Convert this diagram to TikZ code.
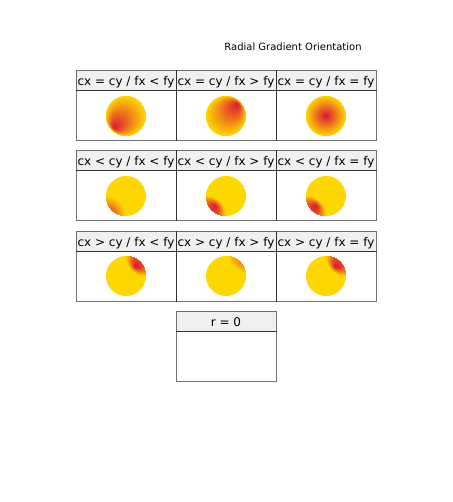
\documentclass[tikz,border=0pt]{standalone}
\usepackage{fontspec}
\setmainfont{DejaVu Sans}
\definecolor{gradgold}{RGB}{255,215,0}
\definecolor{gradred}{RGB}{220,20,60}
\definecolor{headfill}{RGB}{240,240,240}
\tikzset{
  cellbox/.style={draw=black, draw opacity=0.55, line width=1pt},
  headtext/.style={anchor=base, inner sep=0pt, font=\fontsize{12}{14}\selectfont},
  titletext/.style={anchor=base, inner sep=0pt, font=\fontsize{10}{12}\selectfont},
}
% #1,#2 disk centre (px); #3,#4 gradient centre (bbox units); #5 gradient radius (bbox); #6,#7 focal point (bbox)
\newcommand\gradball[7]{%
  \begin{scope}
    \clip (#1,#2) circle[radius=20pt];
    \fill[gradgold] (#1,#2) circle[radius=20pt];
    \foreach \i in {0,...,60}{
      \pgfmathsetmacro\tt{1-\i/60}
      \pgfmathsetmacro\px{#1-20+40*(#6+\tt*(#3-#6))}
      \pgfmathsetmacro\py{#2-20+40*(#7+\tt*(#4-#7))}
      \pgfmathsetmacro\rr{40*#5*\tt}
      \pgfmathsetmacro\pc{100*(1-\tt)}
      \fill[gradred!\pc!gradgold] (\px,\py) circle[radius=\rr pt];
    }
  \end{scope}}
\begin{document}
\begin{tikzpicture}[x=1pt,y=-1pt]
\useasboundingbox[fill=white] (0,0) rectangle (452,502);
\node[titletext] (title) at (293,50.5) {Radial Gradient Orientation};

% header fills
\foreach \yy in {71,151,231}{
  \foreach \xx in {76,176,276}{
    \fill[headfill] (\xx,\yy) rectangle ++(100,20);
  }
}
\fill[headfill] (176,311) rectangle ++(100,20);

% gradients
\gradball{126}{116}{0.5}{0.5}{0.5}{0.2}{0.8}
\gradball{226}{116}{0.5}{0.5}{0.5}{0.8}{0.2}
\gradball{326}{116}{0.5}{0.5}{0.5}{0.5}{0.5}
\gradball{126}{196}{0}{1}{0.5}{0}{1}
\gradball{226}{196}{0}{1}{0.5}{0.24}{0.75}
\gradball{326}{196}{0}{1}{0.5}{0.26}{0.75}
\gradball{126}{276}{1}{0}{0.5}{0.74}{0.27}
\gradball{226}{276}{1.06}{-0.06}{0.5}{1.06}{-0.06}
\gradball{326}{276}{1}{0}{0.5}{0.74}{0.27}

% borders
\foreach \yy in {71,151,231}{
  \foreach \xx in {76,176,276}{
    \draw[cellbox] (\xx,\yy) rectangle ++(100,20);
    \draw[cellbox] (\xx,\yy+20) rectangle ++(100,50);
  }
}
\draw[cellbox] (176,311) rectangle ++(100,20);
\draw[cellbox] (176,331) rectangle ++(100,50);

% header texts
\node[headtext] (h11) at (126,86) {cx = cy / fx < fy};
\node[headtext] (h12) at (226,86) {cx = cy / fx > fy};
\node[headtext] (h13) at (326,86) {cx = cy / fx = fy};
\node[headtext] (h21) at (126,166) {cx < cy / fx < fy};
\node[headtext] (h22) at (226,166) {cx < cy / fx > fy};
\node[headtext] (h23) at (326,166) {cx < cy / fx = fy};
\node[headtext] (h31) at (126,246) {cx > cy / fx < fy};
\node[headtext] (h32) at (226,246) {cx > cy / fx > fy};
\node[headtext] (h33) at (326,246) {cx > cy / fx = fy};
\node[headtext] (h41) at (226,326) {r = 0};
\end{tikzpicture}
\end{document}
